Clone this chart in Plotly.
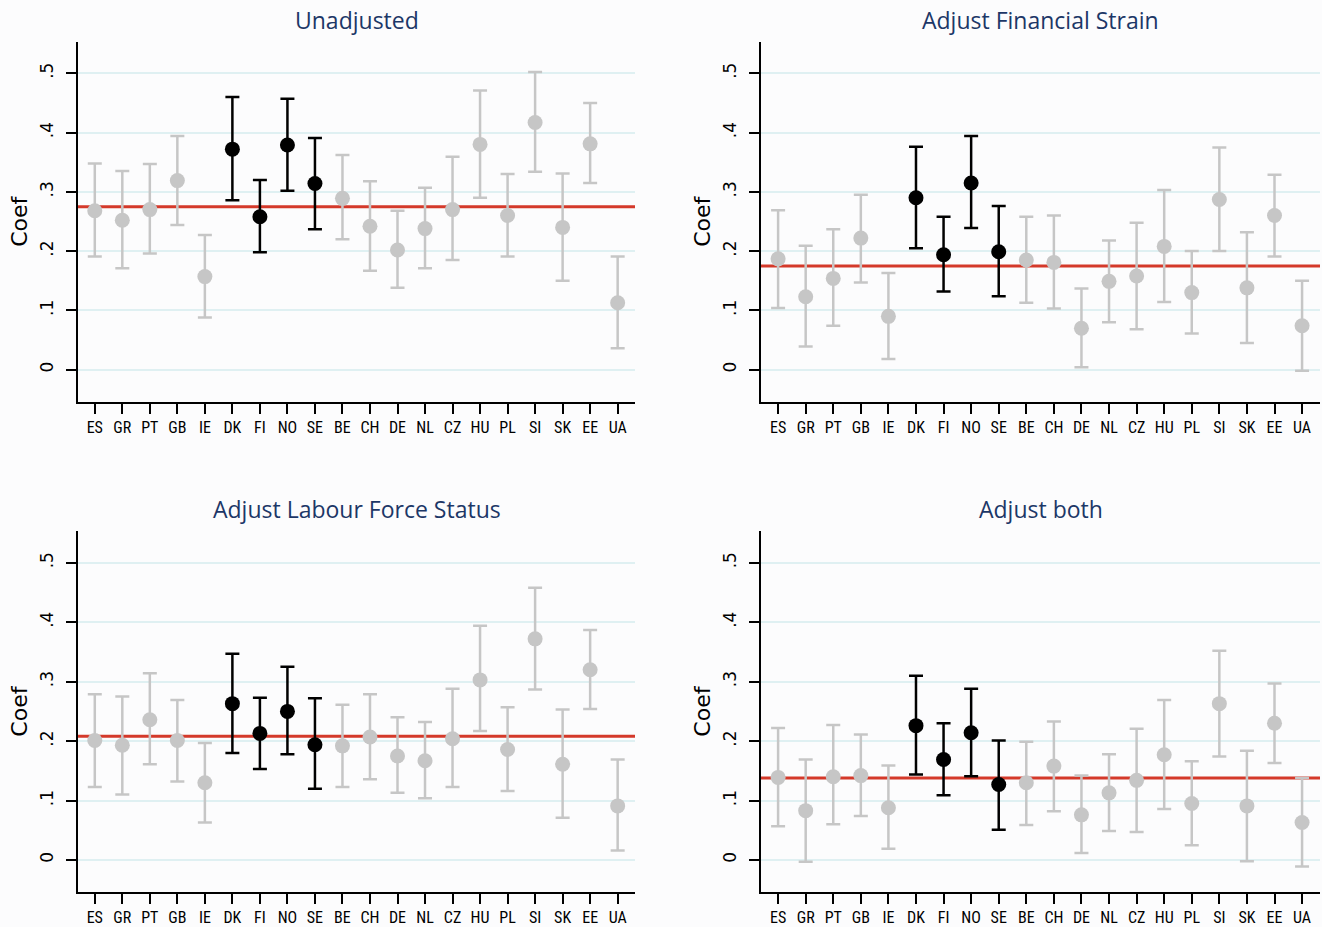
import plotly.graph_objects as go

countries = ["ES", "GR", "PT", "GB", "IE", "DK", "FI", "NO", "SE", "BE",
             "CH", "DE", "NL", "CZ", "HU", "PL", "SI", "SK", "EE", "UA"]
nordic = ["DK", "FI", "NO", "SE"]

titles = ["Unadjusted", "Adjust Financial Strain",
          "Adjust Labour Force Status", "Adjust both"]

# Unadjusted
coef_unadj = [0.268, 0.252, 0.270, 0.319, 0.157, 0.372, 0.258, 0.379, 0.314, 0.289,
              0.242, 0.202, 0.238, 0.270, 0.380, 0.260, 0.417, 0.240, 0.381, 0.113]
hi_unadj = [0.348, 0.335, 0.347, 0.394, 0.227, 0.460, 0.320, 0.457, 0.391, 0.362,
            0.318, 0.268, 0.307, 0.359, 0.471, 0.330, 0.502, 0.331, 0.450, 0.191]
lo_unadj = [0.191, 0.171, 0.196, 0.244, 0.088, 0.286, 0.198, 0.302, 0.237, 0.220,
            0.167, 0.138, 0.171, 0.185, 0.290, 0.191, 0.334, 0.150, 0.315, 0.036]

# Adjust Financial Strain
coef_fin = [0.187, 0.123, 0.154, 0.222, 0.090, 0.290, 0.194, 0.315, 0.199, 0.185,
            0.181, 0.070, 0.149, 0.158, 0.208, 0.130, 0.287, 0.138, 0.260, 0.074]
hi_fin = [0.269, 0.209, 0.237, 0.295, 0.163, 0.376, 0.258, 0.394, 0.276, 0.258,
          0.260, 0.137, 0.218, 0.248, 0.303, 0.200, 0.375, 0.232, 0.329, 0.150]
lo_fin = [0.104, 0.039, 0.074, 0.147, 0.018, 0.205, 0.132, 0.239, 0.124, 0.113,
          0.103, 0.004, 0.080, 0.068, 0.114, 0.061, 0.200, 0.045, 0.191, -0.002]

# Adjust Labour Force Status
coef_lab = [0.201, 0.193, 0.236, 0.201, 0.130, 0.263, 0.213, 0.250, 0.194, 0.192,
            0.207, 0.175, 0.167, 0.204, 0.303, 0.186, 0.372, 0.161, 0.320, 0.091]
hi_lab = [0.279, 0.275, 0.314, 0.269, 0.197, 0.347, 0.273, 0.325, 0.272, 0.261,
          0.279, 0.240, 0.232, 0.288, 0.394, 0.257, 0.458, 0.253, 0.387, 0.169]
lo_lab = [0.123, 0.110, 0.161, 0.132, 0.063, 0.180, 0.153, 0.178, 0.120, 0.123,
          0.136, 0.113, 0.104, 0.123, 0.217, 0.116, 0.287, 0.071, 0.254, 0.016]

# Adjust both
coef_both = [0.139, 0.083, 0.140, 0.142, 0.088, 0.226, 0.169, 0.214, 0.127, 0.130,
             0.158, 0.076, 0.113, 0.134, 0.177, 0.095, 0.263, 0.091, 0.230, 0.063]
hi_both = [0.222, 0.169, 0.227, 0.211, 0.159, 0.310, 0.230, 0.288, 0.201, 0.199,
           0.233, 0.142, 0.178, 0.221, 0.269, 0.166, 0.352, 0.184, 0.297, 0.138]
lo_both = [0.057, -0.003, 0.060, 0.074, 0.019, 0.144, 0.109, 0.141, 0.051, 0.059,
           0.082, 0.012, 0.049, 0.047, 0.086, 0.025, 0.174, -0.002, 0.163, -0.011]

# pooled estimate (red reference line) per panel
pooled = [0.275, 0.175, 0.208, 0.138]

ytick_vals = [0, 0.1, 0.2, 0.3, 0.4, 0.5]
ytick_text = ["0", ".1", ".2", ".3", ".4", ".5"]

panels = [
    (coef_unadj, lo_unadj, hi_unadj),
    (coef_fin, lo_fin, hi_fin),
    (coef_lab, lo_lab, hi_lab),
    (coef_both, lo_both, hi_both),
]

W, H = 1322, 927
GRAY = "#c6c6c6"
BLACK = "#000000"
NAVY = "#1c3767"
GRID = "#dff0f2"
BG = "#fcfcfd"
TICKFONT = "Liberation Sans Narrow, Roboto Condensed, Liberation Sans, sans-serif"

# pixel boxes (left, right, top, bottom)
boxes = [(78, 635, 42, 403), (761, 1320, 42, 403),
         (78, 635, 533, 895), (761, 1320, 533, 895)]
xranges = [(-0.61, 19.63), (-0.62, 19.65), (-0.61, 19.63), (-0.62, 19.65)]
yrange = (-0.054, 0.553)

fig = go.Figure()

for i, (coef, lo, hi) in enumerate(panels):
    k = "" if i == 0 else str(i + 1)
    xa, ya = "x" + k, "y" + k
    fig.add_shape(type="line", xref=xa + " domain", yref=ya,
                  x0=0, x1=1, y0=pooled[i], y1=pooled[i],
                  line=dict(color="#d4392a", width=3), layer="below")
    for group, color in (("other", GRAY), ("nordic", BLACK)):
        idx = [j for j, c in enumerate(countries)
               if (c in nordic) == (group == "nordic")]
        fig.add_trace(go.Scatter(
            x=[j for j in idx],
            y=[coef[j] for j in idx],
            mode="markers",
            marker=dict(size=15, color=color, line=dict(width=0)),
            error_y=dict(type="data", symmetric=False,
                         array=[hi[j] - coef[j] for j in idx],
                         arrayminus=[coef[j] - lo[j] for j in idx],
                         color=color, thickness=2.5, width=7),
            xaxis=xa, yaxis=ya, showlegend=False, hoverinfo="skip",
        ))

    l, r, t, b = boxes[i]
    xdom = [l / W, r / W]
    ydom = [1 - b / H, 1 - t / H]
    fig.layout["xaxis" + k] = dict(
        domain=xdom, range=list(xranges[i]),
        tickmode="array", tickvals=list(range(len(countries))), ticktext=countries,
        ticks="outside", ticklen=10, tickwidth=1.5, tickcolor="black",
        showline=True, linecolor="black", linewidth=2,
        showgrid=False, zeroline=False, anchor=ya,
        tickfont=dict(family=TICKFONT, size=16, color="black"),
    )
    fig.layout["yaxis" + k] = dict(
        domain=ydom, range=list(yrange),
        tickmode="array", tickvals=ytick_vals, ticktext=ytick_text,
        tickangle=-90,
        ticks="outside", ticklen=10, tickwidth=1.5, tickcolor="black",
        showline=True, linecolor="black", linewidth=2,
        showgrid=True, gridcolor=GRID, gridwidth=1.5,
        zeroline=False, anchor=xa, ticklabelstandoff=6,
        tickfont=dict(family="DejaVu Sans, sans-serif", size=17, color="black"),
    )
    fig.add_annotation(text=titles[i], x=(l + r) / 2 / W, y=1 - (t - 22) / H,
                       xref="paper", yref="paper", showarrow=False,
                       xanchor="center", yanchor="middle",
                       font=dict(family="Open Sans, sans-serif", size=23, color=NAVY))
    fig.add_annotation(text="Coef", x=(l - 58) / W, y=1 - (t + b) / 2 / H,
                       xref="paper", yref="paper", showarrow=False, textangle=-90,
                       xanchor="center", yanchor="middle",
                       font=dict(family="DejaVu Sans, sans-serif", size=22, color="black"))

fig.update_layout(
    width=W, height=H,
    margin=dict(l=0, r=0, t=0, b=0),
    paper_bgcolor=BG, plot_bgcolor=BG,
)

fig.write_html("out.html", config={"displayModeBar": False},
               post_script="document.body.style.margin='0';document.body.style.padding='0';")
